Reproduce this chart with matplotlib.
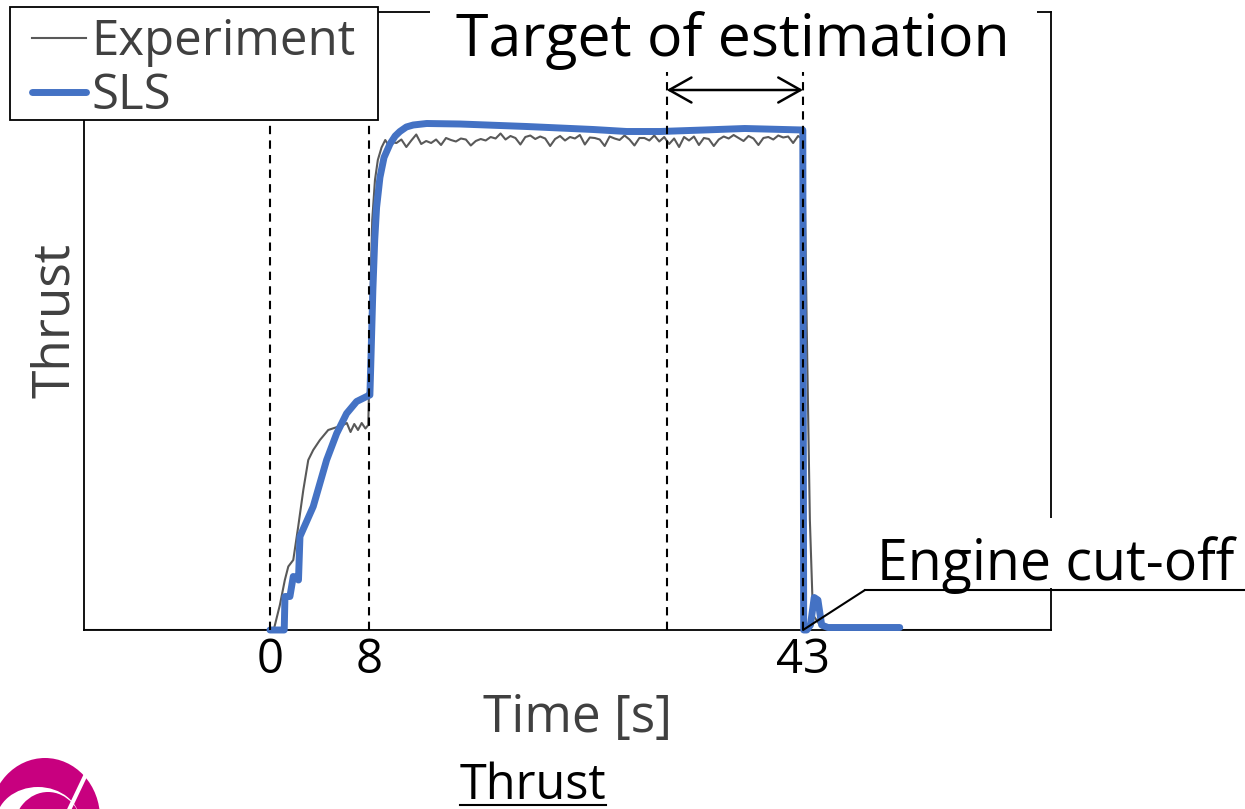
import matplotlib
matplotlib.use('Agg')
import matplotlib.pyplot as plt
from matplotlib.patches import Rectangle, Ellipse

plt.rcParams['font.family'] = ['Open Sans', 'DejaVu Sans']

# --- data (thrust normalised to plateau ~1) ---
exp_t = [-15, 0.3, 0.8, 1.2, 1.48, 1.88, 2.28, 2.69, 3.09, 3.49, 4.03, 4.7, 5.3,
         5.91, 6.2, 6.5, 6.8, 7.1, 7.4, 7.7, 7.93, 8.05, 8.15, 8.25, 8.47, 8.7,
         9.0, 9.3, 9.6,
         9.8, 10.2, 10.6, 11.0, 11.4, 11.8, 12.2, 12.6, 13.0, 13.4, 13.8, 14.2,
         14.6, 15.0, 15.4, 15.8, 16.2, 16.6, 17.0, 17.4, 17.8, 18.2, 18.6, 19.0,
         19.4, 19.8, 20.2, 20.6, 21.0, 21.4, 21.8, 22.2, 22.6, 23.0, 23.4, 23.8,
         24.2, 24.6, 25.0, 25.4, 25.8, 26.2, 26.6, 27.0, 27.4, 27.8, 28.2, 28.6,
         29.0, 29.4, 29.8, 30.2, 30.6, 31.0, 31.4, 31.8, 32.2, 32.6, 33.0, 33.4,
         33.8, 34.2, 34.6, 35.0, 35.4, 35.8, 36.2, 36.6, 37.0, 37.4, 37.8, 38.2,
         38.6, 39.0, 39.4, 39.8, 40.2, 40.6, 41.0, 41.4, 41.8, 42.2, 42.6, 42.9,
         43.1, 43.3, 43.55, 43.8, 44.5, 45.2, 63]
exp_v = [0, 0, 0.05, 0.1, 0.127, 0.14, 0.207, 0.28, 0.34, 0.36, 0.38, 0.40, 0.405,
         0.41, 0.414, 0.396, 0.412, 0.400, 0.414, 0.403, 0.41, 0.55, 0.72, 0.82, 0.90, 0.94,
         0.965, 0.98, 0.968,
         0.976, 0.974, 0.981, 0.966, 0.979, 0.991, 0.972, 0.978, 0.974, 0.981, 0.970, 0.984,
         0.980, 0.977, 0.983, 0.981, 0.969, 0.978, 0.982, 0.979, 0.986, 0.983, 0.993, 0.981,
         0.988, 0.984, 0.971, 0.986, 0.989, 0.982, 0.987, 0.983, 0.968, 0.982, 0.988, 0.979,
         0.986, 0.983, 0.990, 0.971, 0.985, 0.984, 0.981, 0.968, 0.987, 0.983, 0.980, 0.989,
         0.981, 0.969, 0.984, 0.984, 0.979, 0.989, 0.977, 0.986, 0.972, 0.983, 0.966, 0.986,
         0.979, 0.987, 0.970, 0.984, 0.982, 0.968, 0.981, 0.987, 0.983, 0.990, 0.984, 0.978,
         0.988, 0.983, 0.970, 0.984, 0.986, 0.981, 0.989, 0.985, 0.987, 0.974, 0.988, 0.983,
         0.95, 0.6, 0.22, 0.03, 0.005, 0, 0]

sls_t = [0, 1.15, 1.21, 1.61, 1.88, 2.2, 2.3, 2.42, 3.49, 4.57, 5.38, 6.18, 6.99,
         7.8, 8.06, 8.12, 8.3, 8.45, 8.6, 8.87, 9.2, 9.68, 10.1, 10.48, 11.0, 11.56,
         12.64, 15.32, 20.7, 26.07, 28.77, 31.45, 35, 38.3, 42.98, 43.05, 43.3, 43.6,
         43.9, 44.2, 44.5, 45.0, 50.8]
sls_v = [0, 0, 0.067, 0.067, 0.107, 0.105, 0.10, 0.187, 0.247, 0.34, 0.393, 0.433, 0.457,
         0.467, 0.47, 0.52, 0.68, 0.78, 0.845, 0.905, 0.945, 0.972, 0.988, 0.997, 1.006, 1.01,
         1.013, 1.012, 1.007, 1.001, 0.997, 0.997, 1.0, 1.003, 1.0, 0.0, 0.0, 0.01,
         0.065, 0.06, 0.01, 0.005, 0.005]

tick_pos = [0, 8, 43]
tick_labels = ['0', '8', '43']
event_times = [0, 8, 32, 43]
target_start, target_end = 32, 43

W, H = 1245, 809
fig = plt.figure(figsize=(W / 100, H / 100), dpi=100)
ax = fig.add_axes([84 / W, 179 / H, 967 / W, 618 / H])

ax.plot(exp_t, exp_v, color='#595959', lw=1.5, label='Experiment', zorder=2)
ax.plot(sls_t, sls_v, color='#4472C4', lw=5, label='SLS', zorder=3,
        solid_capstyle='round', clip_on=False)
for t in event_times:
    ax.axvline(t, color='black', lw=1.5, ls=(0, (4, 3)), zorder=4)

ax.annotate('', xy=(target_start, 1.08), xytext=(target_end, 1.08),
            arrowprops=dict(arrowstyle='<->,head_length=1.6,head_width=0.9',
                            lw=1.8, color='black', shrinkA=0, shrinkB=0))

ax.set_xlim(-15, 63)
ax.set_ylim(0, 1.236)
ax.set_xticks(tick_pos)
ax.set_xticklabels(tick_labels, fontsize=34)
ax.set_yticks([])
ax.tick_params(axis='x', length=0, pad=5)
for s in ax.spines.values():
    s.set_linewidth(1.3)
ax.set_xlabel('Time [s]', fontsize=37, color='#404040', labelpad=6, x=0.51)
ax.set_ylabel('Thrust', fontsize=37, color='#404040', labelpad=2)

# leader line for engine cut-off, anchored at the data point
ax.annotate('', xy=(43, 0), xycoords='data', xytext=(865, H - 590),
            textcoords='figure pixels',
            arrowprops=dict(arrowstyle='-', lw=1.5, color='black', shrinkA=0, shrinkB=0))

# overlay in pixel coords for the annotations
ov = fig.add_axes([0, 0, 1, 1], zorder=5)
ov.set_xlim(0, W)
ov.set_ylim(H, 0)
ov.axis('off')
ov.patch.set_alpha(0)

# legend with a hand-placed frame
ov.add_patch(Rectangle((10, 7), 368, 113, facecolor='white', edgecolor='black',
                       lw=1.3, zorder=1))
handles, labels = ax.get_legend_handles_labels()
leg = ov.legend(handles, labels, loc='upper left', bbox_to_anchor=(21 / W, 1 - 7 / H),
                bbox_transform=fig.transFigure, fontsize=35.5, handlelength=1.1,
                handletextpad=0.1, borderpad=0.22, labelspacing=0.08,
                borderaxespad=0, frameon=False)
for txt in leg.get_texts():
    txt.set_color('#404040')

ov.add_patch(Rectangle((430, -5), 607, 77, facecolor='white', edgecolor='none'))
ov.text(733, 41, 'Target of estimation', ha='center', va='center', fontsize=42.5)

ov.add_patch(Rectangle((866, 518), 379, 70, facecolor='white', edgecolor='none'))
ov.text(1056, 580, 'Engine cut-off', ha='center', va='baseline', fontsize=40)
ov.plot([865, W], [590, 590], color='black', lw=1.5)

thr = ov.text(533, 799, 'Thrust', ha='center', va='baseline', fontsize=35)
fig.canvas.draw()
bb = thr.get_window_extent()
ov.plot([bb.x0, bb.x1], [805, 805], color='black', lw=1.5)

# partial logo at the bottom-left corner
mag = '#C8007F'
ov.add_patch(Ellipse((45, 818), 110, 120, facecolor=mag, edgecolor='none'))
ov.add_patch(Ellipse((38, 822), 84, 70, facecolor='white', edgecolor='none'))
ov.add_patch(Ellipse((48, 832), 70, 80, facecolor=mag, edgecolor='none'))
ov.add_patch(Ellipse((40, 835), 40, 50, facecolor='white', edgecolor='none'))
ov.plot([88, 68], [770, 812], color='white', lw=3)

fig.savefig('out.png', dpi=100)
